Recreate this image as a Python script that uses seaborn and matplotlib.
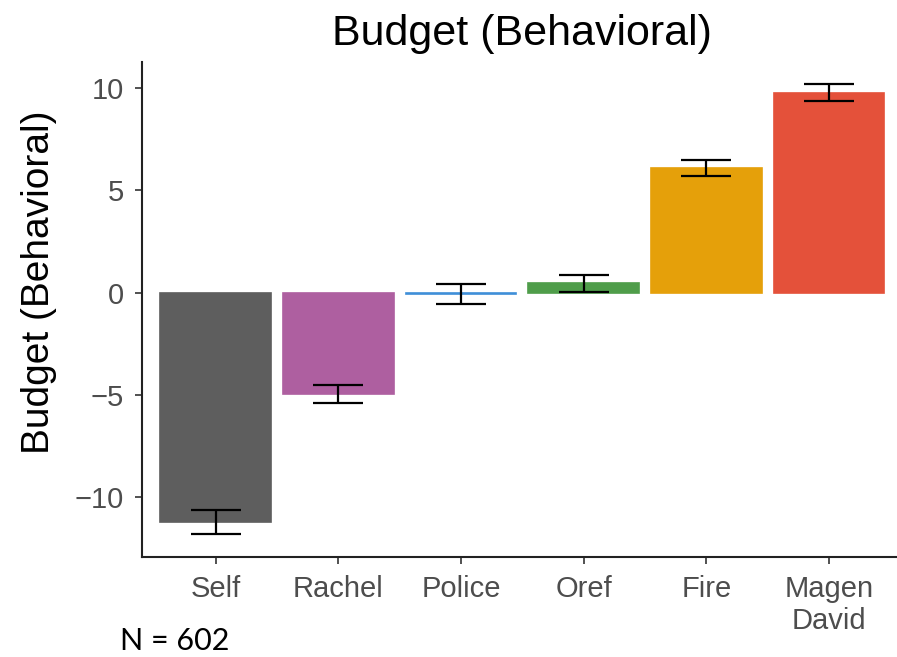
import matplotlib
matplotlib.use('Agg')
import matplotlib.pyplot as plt
import seaborn as sns
import pandas as pd

# Data
groups = ['Self', 'Rachel', 'Police', 'Oref', 'Fire', 'Magen\nDavid']
means = [-11.22, -4.96, -0.08, 0.45, 6.07, 9.77]
errors = [0.60, 0.42, 0.50, 0.42, 0.38, 0.40]
colors = ['#5e5e5e', '#ae5fa0', '#3f8fd8', '#4f9d4a', '#e5a00a', '#e4513a']

df = pd.DataFrame({'group': groups, 'budget': means})

sns.set_style('white')
plt.rcParams['font.family'] = ['Liberation Sans', 'DejaVu Sans']

fig = plt.figure(figsize=(8.97, 6.57), dpi=100)
ax = fig.add_axes([0.1583, 0.1522, 0.848, 0.7534])

sns.barplot(data=df, x='group', y='budget', hue='group', palette=colors,
            errorbar=None, width=0.9, saturation=1, legend=False, ax=ax)
# thin outline in the bar's own colour so the near-zero bar still shows
for p in ax.patches:
    p.set_edgecolor(p.get_facecolor())
    p.set_linewidth(1.2)

ax.errorbar(range(len(groups)), means, yerr=errors, fmt='none',
            ecolor='black', elinewidth=1.6, capsize=18, capthick=1.6)

ax.set_xlim(-0.6, 5.6)
ax.set_ylim(-12.92, 11.26)
ax.set_yticks([-10, -5, 0, 5, 10])

for side in ['top', 'right']:
    ax.spines[side].set_visible(False)
for side in ['left', 'bottom']:
    ax.spines[side].set_color('#222222')
    ax.spines[side].set_linewidth(1.5)

ax.tick_params(axis='both', length=5, width=1.2, color='#333333',
               labelcolor='#4d4d4d', labelsize=21, bottom=True, left=True)
ax.tick_params(axis='x', pad=8)
ax.tick_params(axis='y', pad=8)
ax.set_xlabel('')
ax.set_ylabel('Budget (Behavioral)', fontsize=28, color='black')
ax.yaxis.set_label_coords(-0.112, 0.556)
ax.set_title('Budget (Behavioral)', fontsize=31, pad=12, color='black')

fig.text(0.134, 0.01, 'N = 602', fontsize=22, color='black',
         family=['Lato', 'DejaVu Sans'], va='baseline')

plt.savefig('out.png', dpi=100)
plt.close()
